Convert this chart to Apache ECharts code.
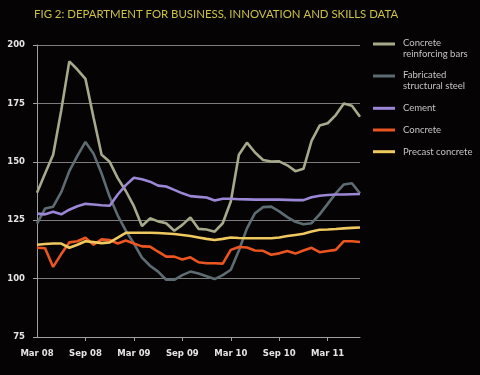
<!DOCTYPE html>
<html>
<head>
<meta charset="utf-8">
<script src="https://cdn.jsdelivr.net/npm/echarts@6/dist/echarts.min.js"></script>
<style>
  html, body { margin: 0; padding: 0; background: #050304; }
  #main { width: 480px; height: 375px; }
</style>
</head>
<body>
<div id="main"></div>
<script>
// monthly index values, Mar 08 - Jul 11
const months = [
  'Mar 08', 'Apr 08', 'May 08', 'Jun 08', 'Jul 08', 'Aug 08', 'Sep 08', 'Oct 08', 'Nov 08', 'Dec 08',
  'Jan 09', 'Feb 09', 'Mar 09', 'Apr 09', 'May 09', 'Jun 09', 'Jul 09', 'Aug 09', 'Sep 09', 'Oct 09',
  'Nov 09', 'Dec 09', 'Jan 10', 'Feb 10', 'Mar 10', 'Apr 10', 'May 10', 'Jun 10', 'Jul 10', 'Aug 10',
  'Sep 10', 'Oct 10', 'Nov 10', 'Dec 10', 'Jan 11', 'Feb 11', 'Mar 11', 'Apr 11', 'May 11', 'Jun 11',
  'Jul 11'
]
const rebar = [
  136.8, 145, 153, 172, 193, 189.5, 185.5, 169, 153, 150,
  143, 137.5, 131, 122.5, 125.8, 124.5, 123.7, 120.5, 123, 126.2,
  121.3, 121, 120.1, 123.7, 133, 153, 158.2, 154, 150.8, 150.1,
  150.2, 148.5, 146, 147, 159, 165.5, 166.5, 170, 175, 174,
  169.3
]
const steel = [
  123.5, 130, 130.8, 137, 146, 152.5, 158.5, 153.5, 145, 135,
  127, 120.5, 115, 109, 105.5, 103, 99.5, 99.5, 101.5, 103,
  102.2, 101, 99.8, 101.5, 103.8, 112, 121.5, 128, 130.6, 130.8,
  128.8, 126.3, 124.3, 123.3, 123.7, 127.5, 132, 136.5, 140.3, 140.8,
  136.5
]
const cement = [
  127.8, 127.5, 128.6, 127.5, 129.5, 131, 132, 131.7, 131.4, 131.2,
  136, 140, 143.2, 142.5, 141.5, 139.8, 139.4, 138, 136.5, 135.3,
  135, 134.7, 133.4, 134.2, 134.2, 134, 133.9, 133.8, 133.8, 133.8,
  133.8, 133.7, 133.6, 133.6, 134.8, 135.5, 135.8, 136, 136, 136.1,
  136.2
]
const concrete = [
  113.2, 113, 105, 110.5, 115.5, 116, 117.5, 114.5, 116.8, 116.5,
  115, 116.3, 115, 113.8, 113.7, 111.5, 109.4, 109.4, 108.2, 109.1,
  107, 106.6, 106.6, 106.4, 112.3, 113.5, 113.3, 112, 111.9, 110.2,
  110.8, 111.8, 110.7, 112, 113.2, 111.3, 111.8, 112.3, 116, 116,
  115.7
]
const precast = [
  114.5, 114.8, 115, 115, 113.2, 114.5, 116, 115.6, 115.2, 115.5,
  117.5, 119.6, 119.6, 119.6, 119.6, 119.5, 119.3, 119.1, 118.7, 118.2,
  117.6, 117, 116.5, 117, 117.6, 117.4, 117.3, 117.3, 117.3, 117.3,
  117.6, 118.2, 118.7, 119.2, 120.2, 120.9, 121, 121.2, 121.5, 121.7,
  121.9
]
const yTicks = { min: 75, max: 200, step: 25 }

const names = ['Concrete\nreinforcing bars', 'Fabricated\nstructural steel', 'Cement', 'Concrete', 'Precast concrete']
const colors = ['#a8a98a', '#5d6c73', '#9b87d6', '#ea5520', '#f0c860']
const values = [rebar, steel, cement, concrete, precast]

// legend icons: two-line names get the line next to the first line of text
const iconTwo = 'path://M0,1L22,1L22,4L0,4ZM0,0L0,0M25,14L25,14'
const iconOne = 'path://M0,5.5L22,5.5L22,8.5L0,8.5ZM0,0L0,0M25,14L25,14'
const legendTops = [37.5, 69.5, 101.3, 123, 144.7]

const myChart = echarts.init(document.getElementById('main'))
const option = {
  backgroundColor: '#050304',
  animation: false,
  title: {
    text: 'FIG 2: DEPARTMENT FOR BUSINESS, INNOVATION AND SKILLS DATA',
    left: 34,
    top: 9,
    padding: 0,
    textStyle: { color: '#cdc143', fontSize: 11.4, fontWeight: 'normal', fontFamily: 'Lato' }
  },
  legend: names.map((n, i) => ({
    data: [{ name: n, icon: i < 2 ? iconTwo : iconOne }],
    orient: 'vertical',
    left: 373,
    top: legendTops[i],
    padding: 0,
    itemWidth: 25,
    itemHeight: 14,
    selectedMode: false,
    itemStyle: { borderWidth: 0 },
    textStyle: { color: '#c4c4c4', fontSize: 9.5, lineHeight: 11, fontFamily: 'Lato' }
  })),
  grid: { left: 37, right: 120, top: 45, bottom: 38 },
  xAxis: {
    type: 'category',
    data: months,
    boundaryGap: false,
    axisLine: { lineStyle: { color: '#a0a0a0', width: 1 } },
    axisTick: { show: true, length: 4, interval: (i) => i > 0 && i % 6 === 0, lineStyle: { color: '#a0a0a0' } },
    axisLabel: {
      interval: (i) => i % 6 === 0,
      margin: 12,
      color: '#e6e6e6',
      fontSize: 8.5,
      fontWeight: 'bold',
      fontFamily: 'DejaVu Sans'
    },
    splitLine: { show: false }
  },
  yAxis: {
    type: 'value',
    min: yTicks.min,
    max: yTicks.max,
    interval: yTicks.step,
    axisLine: { show: true, lineStyle: { color: '#a0a0a0', width: 1 } },
    axisTick: { show: true, length: 4, lineStyle: { color: '#a0a0a0' } },
    axisLabel: { margin: 12, color: '#e6e6e6', fontSize: 8.5, fontWeight: 'bold', fontFamily: 'DejaVu Sans' },
    splitLine: { show: true, lineStyle: { color: '#7c7c7c', width: 1 } }
  },
  series: names.map((n, i) => ({
    name: n,
    type: 'line',
    data: values[i],
    symbol: 'none',
    color: colors[i],
    lineStyle: { width: 2.6, color: colors[i] }
  }))
}
myChart.setOption(option)
</script>
</body>
</html>
